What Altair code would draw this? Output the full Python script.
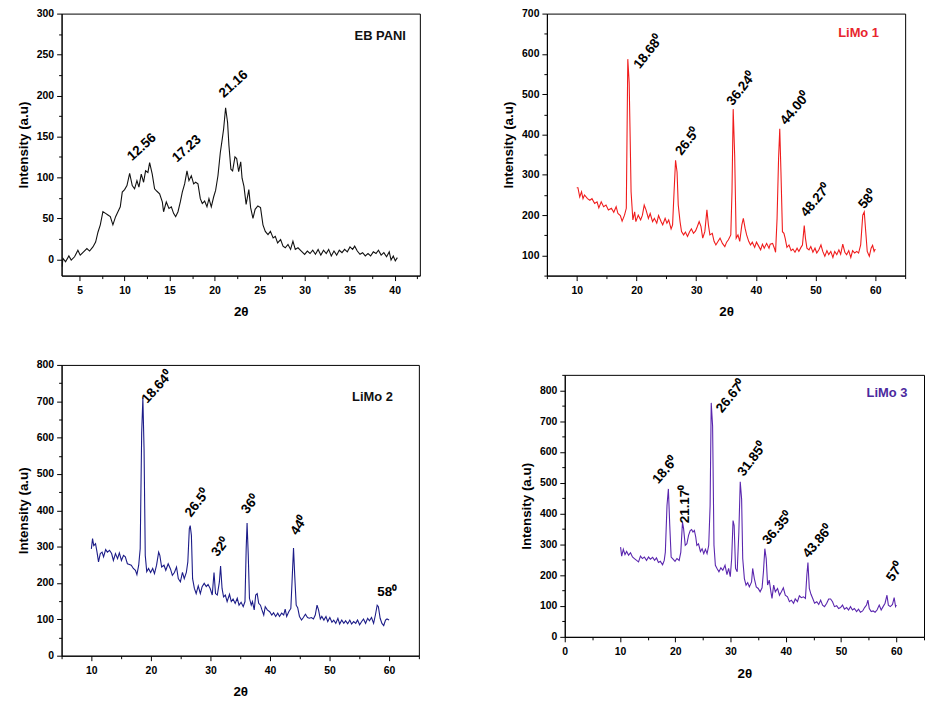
import altair as alt
import pandas as pd

# ---------------- data ----------------
PANI_X = [3.05, 3.15, 3.44, 3.81, 4.07, 4.44, 4.81, 5.07, 5.44, 5.81, 6.11, 6.48, 6.78, 7.04, 7.30, 7.59,
          7.89, 8.15, 8.41, 8.70, 9.00, 9.26, 9.52, 9.74, 10.00, 10.26, 10.56, 10.85, 11.11, 11.37, 11.59,
          11.85, 12.11, 12.33, 12.59, 12.78, 13.07, 13.33, 13.59, 13.89, 14.19, 14.33, 14.63, 14.93, 15.19,
          15.44, 15.67, 15.93, 16.19, 16.41, 16.67, 16.93, 17.15, 17.41, 17.67, 17.89, 18.15, 18.41, 18.63,
          18.89, 19.15, 19.37, 19.63, 19.89, 20.11, 20.37, 20.63, 20.85, 21.0, 21.22, 21.44, 21.59, 21.81,
          22.0, 22.26, 22.45, 22.67, 22.9, 23.05, 23.26, 23.5, 23.8, 24.0, 24.26, 24.5, 24.8, 25.1, 25.37,
          25.63, 25.93, 26.2, 26.5, 26.74, 27.0, 27.33, 27.6, 27.85, 28.15, 28.44, 28.7, 28.96, 29.26, 29.63,
          30.0, 30.3, 30.6, 30.9, 31.2, 31.5, 31.8, 32.1, 32.4, 32.67, 32.96, 33.26, 33.56, 33.85, 34.15,
          34.44, 34.74, 35.04, 35.33, 35.56, 35.85, 36.15, 36.44, 36.74, 37.04, 37.33, 37.63, 37.93, 38.2,
          38.5, 38.8, 39.1, 39.4, 39.6, 39.85, 40.07, 40.3]
PANI_Y = [-9, 1, -3, 4, -1, 3, 11, 5, 9, 13, 10, 15, 21, 33, 42, 58,
          56, 54, 52, 42, 52, 58, 64, 82, 85, 90, 105, 90, 86, 96, 88,
          104, 94, 108, 106, 118, 104, 86, 83, 80, 70, 58, 70, 62, 64,
          56, 52, 58, 70, 82, 92, 108, 96, 102, 92, 94, 92, 74, 68,
          71, 64, 74, 64, 76, 84, 102, 130, 147, 159, 185, 167, 139, 110,
          108, 125, 123, 107, 119, 99, 89, 67, 85, 63, 50, 61, 65, 63, 42,
          34, 30, 34, 26, 28, 20, 24, 16, 14, 18, 12, 22, 12, 14, 10,
          6, 10, 7, 11, 6, 12, 5, 11, 7, 12, 4, 10, 5, 11, 8,
          12, 9, 15, 12, 16, 10, 6, 8, 4, 7, 4, 9, 7, 11,
          5, 8, 3, 9, -1, 4, -2, 2]

LIMO1_X = [10.0, 10.2, 10.5, 10.8, 11.05, 11.3, 11.8, 12.2, 12.55, 13.0, 13.4, 13.7, 14.1, 14.5, 14.9, 15.3,
           15.8, 16.2, 16.6, 16.9, 17.3, 17.6, 18.0, 18.3, 18.55, 18.78, 18.95, 19.1, 19.4, 19.7, 19.9, 20.3,
           20.7, 21.0, 21.3, 21.6, 22.0, 22.3, 22.7, 23.0, 23.4, 23.7, 24.1, 24.4, 24.8, 25.1, 25.4, 25.8,
           26.05, 26.3, 26.55, 26.8, 27.0, 27.3, 27.55, 27.9, 28.2, 28.55, 28.9, 29.2, 29.55, 29.9, 30.2,
           30.5, 30.8, 31.1, 31.45, 31.8, 32.05, 32.3, 32.7, 33.0, 33.3, 33.7, 34.0, 34.4, 34.8, 35.1, 35.4,
           35.8, 36.0, 36.2, 36.45, 36.7, 37.0, 37.3, 37.65, 37.9, 38.2, 38.45, 38.8, 39.1, 39.4, 39.8, 40.1,
           40.4, 40.8, 41.1, 41.4, 41.8, 42.2, 42.4, 42.8, 43.1, 43.3, 43.55, 43.8, 44.0, 44.2, 44.45, 44.7,
           44.9, 45.2, 45.55, 45.9, 46.2, 46.55, 46.9, 47.2, 47.55, 47.8, 48.1, 48.3, 48.55, 48.9, 49.2,
           49.55, 49.9, 50.2, 50.55, 50.9, 51.2, 51.55, 51.9, 52.2, 52.55, 52.9, 53.2, 53.55, 53.9, 54.2,
           54.55, 54.9, 55.2, 55.55, 55.9, 56.2, 56.55, 56.9, 57.2, 57.55, 57.9, 58.15, 58.4, 58.65, 59.0,
           59.3, 59.55, 59.8, 60.0]
LIMO1_Y = [268, 268, 245, 258, 241, 250, 241, 237, 241, 229, 233, 218, 233, 221, 225, 213,
           217, 207, 221, 204, 199, 185, 200, 217, 587, 529, 389, 258, 188, 208, 184, 200,
           188, 200, 225, 213, 192, 204, 184, 192, 180, 199, 185, 176, 192, 180, 188, 166,
           176, 258, 336, 307, 225, 184, 159, 151, 158, 147, 159, 166, 155, 161, 172,
           184, 172, 143, 159, 213, 176, 151, 155, 135, 126, 136, 143, 130, 122, 133, 139,
           151, 258, 463, 348, 143, 151, 135, 176, 192, 167, 151, 135, 126, 133, 120, 133,
           125, 114, 128, 118, 130, 118, 128, 130, 118, 108, 192, 340, 414, 307, 159, 155,
           143, 120, 126, 112, 116, 108, 118, 110, 120, 126, 174, 143, 118, 114, 122,
           108, 118, 106, 114, 126, 110, 98, 112, 102, 110, 95, 110, 102, 114, 103,
           128, 108, 102, 112, 95, 112, 106, 110, 106, 126, 200, 208, 159, 110, 98,
           118, 125, 110, 116]

LIMO2_X = [10.0, 10.2, 10.4, 10.7, 10.95, 11.2, 11.5, 11.8, 12.05, 12.4, 12.7, 13.05, 13.4, 13.7, 14.05,
           14.4, 14.7, 15.05, 15.4, 15.7, 16.05, 16.4, 16.7, 17.05, 17.4, 17.65, 17.95, 18.2, 18.45, 18.65,
           18.85, 19.05, 19.3, 19.6, 19.95, 20.3, 20.6, 20.95, 21.3, 21.5, 21.8, 22.2, 22.5, 22.9, 23.3,
           23.6, 23.95, 24.3, 24.6, 24.95, 25.3, 25.6, 25.95, 26.2, 26.45, 26.6, 26.8, 27.0, 27.3, 27.6,
           27.95, 28.3, 28.6, 28.95, 29.3, 29.6, 29.95, 30.3, 30.6, 30.85, 31.15, 31.5, 31.7, 31.95, 32.2,
           32.5, 32.8, 33.2, 33.5, 33.8, 34.15, 34.5, 34.8, 35.15, 35.5, 35.8, 36.0, 36.15, 36.35, 36.55,
           36.85, 37.05, 37.35, 37.6, 37.85, 38.1, 38.4, 38.65, 38.95, 39.2, 39.55, 39.95, 40.3, 40.6,
           40.95, 41.3, 41.6, 41.95, 42.3, 42.55, 42.8, 43.15, 43.5, 43.7, 43.95, 44.15, 44.4, 44.65,
           44.95, 45.3, 45.6, 45.95, 46.3, 46.6, 46.95, 47.3, 47.6, 47.9, 48.15, 48.45, 48.7, 49.05, 49.4,
           49.7, 50.05, 50.4, 50.7, 51.05, 51.4, 51.7, 52.05, 52.4, 52.7, 53.05, 53.4, 53.7, 54.05, 54.4,
           54.7, 55.05, 55.4, 55.7, 56.05, 56.4, 56.7, 57.05, 57.4, 57.7, 58.0, 58.2, 58.5, 58.8, 59.1,
           59.4, 59.65, 60.0]
LIMO2_Y = [294, 322, 303, 308, 285, 258, 281, 285, 272, 292, 285, 290, 281, 262, 281,
           267, 283, 262, 276, 272, 253, 251, 249, 240, 235, 223, 249, 294, 613, 709,
           568, 276, 231, 240, 229, 240, 226, 249, 285, 276, 244, 249, 235, 253, 238,
           221, 229, 244, 212, 203, 229, 212, 229, 258, 349, 358, 331, 212, 185, 171,
           192, 171, 190, 199, 190, 196, 185, 167, 229, 171, 167, 203, 247, 185, 162,
           167, 149, 169, 149, 156, 144, 158, 139, 147, 135, 149, 294, 365, 276, 158,
           139, 149, 126, 167, 171, 144, 139, 126, 112, 135, 126, 121, 112, 118,
           108, 117, 108, 117, 112, 128, 108, 121, 130, 203, 296, 221, 139, 132,
           108, 98, 105, 114, 105, 103, 105, 101, 112, 139, 126, 101, 108, 98, 108,
           94, 105, 92, 98, 89, 103, 87, 98, 89, 96, 88, 98, 87, 94, 89,
           98, 85, 94, 101, 89, 103, 96, 105, 89, 112, 139, 135, 103, 89, 83,
           98, 101, 98]

LIMO3_X = [10.1, 10.3, 10.6, 10.9, 11.2, 11.55, 11.9, 12.25, 12.6, 13.0, 13.35, 13.7, 14.05, 14.4, 14.8,
           15.15, 15.5, 15.9, 16.25, 16.6, 16.95, 17.3, 17.7, 18.0, 18.2, 18.5, 18.75, 19.0, 19.25, 19.6,
           19.95, 20.3, 20.7, 21.0, 21.3, 21.5, 21.8, 22.1, 22.4, 22.7, 22.95, 23.2, 23.45, 23.7, 23.9,
           24.2, 24.55, 24.85, 25.15, 25.45, 25.75, 26.05, 26.3, 26.5, 26.75, 27.0, 27.25, 27.55, 27.9,
           28.25, 28.6, 29.0, 29.35, 29.65, 29.95, 30.2, 30.45, 30.65, 30.9, 31.2, 31.5, 31.75, 32.0,
           32.2, 32.5, 32.8, 33.1, 33.4, 33.8, 34.0, 34.3, 34.65, 35.0, 35.35, 35.7, 35.95, 36.2, 36.45,
           36.7, 37.0, 37.3, 37.5, 37.8, 38.1, 38.5, 38.85, 39.2, 39.55, 39.9, 40.3, 40.65, 41.0, 41.4,
           41.7, 42.1, 42.45, 42.8, 43.2, 43.55, 43.8, 44.0, 44.25, 44.55, 44.85, 45.2, 45.6, 45.95, 46.3,
           46.65, 47.0, 47.4, 47.75, 48.1, 48.45, 48.8, 49.2, 49.55, 49.9, 50.25, 50.6, 51.0, 51.35, 51.7,
           52.05, 52.4, 52.8, 53.15, 53.5, 53.9, 54.25, 54.6, 54.85, 55.1, 55.45, 55.8, 56.15, 56.5, 56.9,
           57.25, 57.6, 57.95, 58.3, 58.55, 58.9, 59.3, 59.6, 59.85, 60.0]
LIMO3_Y = [291, 262, 284, 267, 277, 265, 273, 259, 254, 248, 243, 262, 254, 259, 248,
           259, 252, 258, 248, 256, 241, 245, 234, 248, 275, 426, 480, 361, 259, 252,
           245, 254, 248, 275, 372, 351, 297, 302, 329, 345, 348, 340, 345, 324, 297,
           302, 277, 286, 270, 284, 270, 297, 426, 759, 684, 297, 232, 222, 211,
           224, 216, 232, 202, 222, 195, 254, 377, 361, 222, 211, 340, 503, 447,
           254, 189, 168, 176, 162, 178, 222, 189, 162, 157, 146, 159, 211, 286, 254,
           168, 184, 146, 125, 168, 146, 157, 135, 146, 159, 135, 130, 114, 119, 109,
           123, 114, 133, 127, 130, 125, 200, 241, 157, 138, 125, 109, 114, 105, 119,
           103, 98, 109, 123, 123, 114, 98, 101, 92, 95, 103, 90, 95, 87, 98,
           87, 92, 82, 90, 80, 84, 95, 103, 119, 92, 82, 84, 80, 87, 103,
           87, 98, 109, 135, 103, 98, 105, 127, 98, 103]

# peak annotations (label, 2theta, intensity, rotation)
PANI_LABELS = ["12.56", "17.23", "21.16"]
PANI_LX = [11.9, 16.9, 22.1]
PANI_LY = [137, 135, 214]
PANI_ANG = [318, 318, 318]

LIMO1_LABELS = ["18.68⁰", "26.5⁰", "36.24⁰", "44.00⁰", "48.27⁰", "58⁰"]
LIMO1_LX = [22.0, 28.6, 37.6, 46.6, 50.05, 58.7]
LIMO1_LY = [605, 383, 514, 465, 237, 239]
LIMO1_ANG = [308, 308, 308, 310, 310, 310]

LIMO2_LABELS = ["18.64⁰", "26.5⁰", "32⁰", "36⁰", "44⁰", "58⁰"]
LIMO2_LX = [21.05, 27.8, 31.7, 36.7, 44.9, 59.7]
LIMO2_LY = [739, 420, 299, 417, 358, 176]
LIMO2_ANG = [312, 308, 308, 308, 304, 0]

LIMO3_LABELS = ["18.6⁰", "21.17⁰", "26.67⁰", "31.85⁰", "36.35⁰", "43.86⁰", "57⁰"]
LIMO3_LX = [18.2, 21.7, 30.1, 33.9, 38.5, 45.8, 59.8]
LIMO3_LY = [541, 431, 781, 576, 353, 310, 211]
LIMO3_ANG = [311, 270, 309, 307, 310, 310, 305]

PANEL_NAMES = ["EB PANI", "LiMo 1", "LiMo 2", "LiMo 3"]
NAME_X = [38.4, 57.2, 57.2, 58.3]
NAME_Y = [273, 651, 713, 791]

FONT = "Liberation Sans"


def tick_axis(values, major, title, title_pad, orient, label_pad):
    return alt.Axis(
        values=values,
        labelExpr=f"datum.value % {major} === 0 ? datum.label : ''",
        tickSize={"condition": {"test": f"datum.value % {major} !== 0", "value": 3}, "value": 5},
        title=title,
        titlePadding=title_pad,
        grid=False,
        labelOverlap=False,
        labelFlush=False,
        labelFont=FONT,
        labelFontSize=10.5,
        labelFontWeight="bold",
        labelColor="black",
        labelPadding=label_pad,
        titleFont=FONT,
        titleFontSize=13.5,
        titleFontWeight="bold",
        titleColor="black",
        domainColor="black",
        tickColor="black",
        orient=orient,
    )


def panel(xs, ys, color, xdom, xvals, xmaj, ydom, yvals, ymaj,
          labels, lx, ly, lang, name, nx, ny, name_color, w, h):
    xax = tick_axis(xvals, xmaj, "2θ", 9, "bottom", 5)
    yax = tick_axis(yvals, ymaj, "Intensity (a.u)", 6, "left", 3)
    xsc = alt.Scale(domain=xdom, nice=False, zero=False)
    ysc = alt.Scale(domain=ydom, nice=False, zero=False)

    line = alt.Chart(pd.DataFrame({"x": xs, "y": ys})).mark_line(
        color=color, strokeWidth=1.1, clip=True
    ).encode(
        x=alt.X("x:Q", scale=xsc, axis=xax),
        y=alt.Y("y:Q", scale=ysc, axis=yax),
    )
    ann = alt.Chart(pd.DataFrame({"x": lx, "y": ly, "t": labels, "a": lang})).mark_text(
        font=FONT, fontSize=13.5, fontWeight="bold", color="black",
        align="center", baseline="middle"
    ).encode(
        x=alt.X("x:Q", scale=xsc, axis=xax),
        y=alt.Y("y:Q", scale=ysc, axis=yax),
        text="t:N",
        angle=alt.Angle("a:Q", scale=None),
    )
    nm = alt.Chart(pd.DataFrame({"x": [nx], "y": [ny], "t": [name]})).mark_text(
        font=FONT, fontSize=13, fontWeight="bold", color=name_color,
        align="center", baseline="middle"
    ).encode(
        x=alt.X("x:Q", scale=xsc, axis=xax),
        y=alt.Y("y:Q", scale=ysc, axis=yax),
        text="t:N",
    )
    return alt.layer(line, ann, nm).properties(width=w, height=h)


def steps(a, b, s):
    out = []
    v = a
    while v <= b + 1e-9:
        out.append(round(v, 3))
        v += s
    return out


p1 = panel(PANI_X, PANI_Y, "#111111", [3, 42.8], steps(5, 42.5, 2.5), 5,
           [-20, 300], steps(0, 300, 25), 50,
           PANI_LABELS, PANI_LX, PANI_LY, PANI_ANG,
           PANEL_NAMES[0], NAME_X[0], NAME_Y[0], "#111111", 361, 264)
p2 = panel(LIMO1_X, LIMO1_Y, "#f01c1c", [5, 65], steps(5, 65, 5), 10,
           [50, 700], steps(50, 700, 50), 100,
           LIMO1_LABELS, LIMO1_LX, LIMO1_LY, LIMO1_ANG,
           PANEL_NAMES[1], NAME_X[1], NAME_Y[1], "#e8252d", 361, 264)
p3 = panel(LIMO2_X, LIMO2_Y, "#1c1c88", [5, 65], steps(5, 65, 5), 10,
           [0, 800], steps(0, 800, 50), 100,
           LIMO2_LABELS, LIMO2_LX, LIMO2_LY, LIMO2_ANG,
           PANEL_NAMES[2], NAME_X[2], NAME_Y[2], "#111111", 360, 293)
p4 = panel(LIMO3_X, LIMO3_Y, "#5a26ae", [0, 65], steps(0, 65, 5), 10,
           [0, 850], steps(0, 850, 50), 100,
           LIMO3_LABELS, LIMO3_LX, LIMO3_LY, LIMO3_ANG,
           PANEL_NAMES[3], NAME_X[3], NAME_Y[3], "#4b2a9e", 362, 264)

spacer = alt.Chart(pd.DataFrame({"v": [0]})).mark_point(opacity=0).encode(
    x=alt.X("v:Q", axis=None), y=alt.Y("v:Q", axis=None)
).properties(width=10, height=1, view=alt.ViewBackground(strokeOpacity=0))

row1 = alt.hconcat(p1, p2, spacing=80)
row2 = alt.hconcat(p3, alt.vconcat(spacer, p4, spacing=0), spacing=99)

chart = alt.vconcat(row1, row2, spacing=40).configure(
    padding={"left": 7, "top": -3, "right": 0, "bottom": 0},
    background="white",
).configure_view(stroke="black", strokeWidth=1)

chart.save("out.html", embed_options={"renderer": "svg", "actions": False})
